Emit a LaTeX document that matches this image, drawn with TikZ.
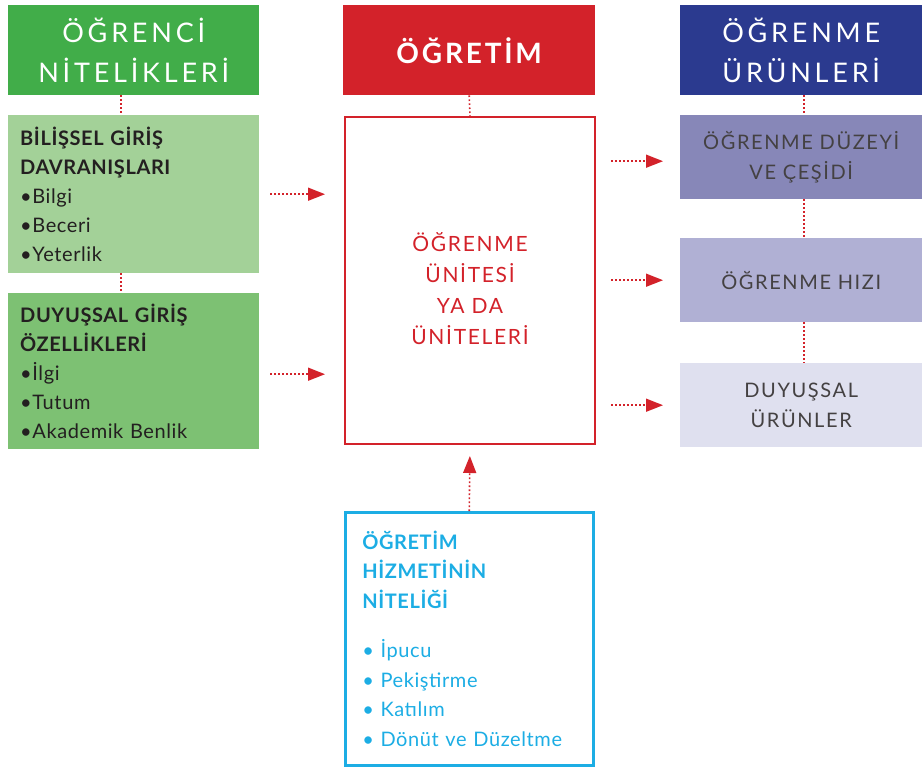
\documentclass[tikz,border=0pt]{standalone}
\usepackage{fontspec}
\setmainfont{Lato}[LetterSpace=3]
\newfontfamily\capsfont{Lato}[LetterSpace=8]
\newfontfamily\headfont{Lato}[LetterSpace=14]
\newfontfamily\boldhead{Lato}[LetterSpace=10]
\usetikzlibrary{arrows.meta}
\definecolor{hgreen}{HTML}{41AD49}
\definecolor{lgreen}{HTML}{A3D198}
\definecolor{mgreen}{HTML}{7DC173}
\definecolor{ored}{HTML}{D3222A}
\definecolor{onavy}{HTML}{2B3A8F}
\definecolor{pone}{HTML}{8787B8}
\definecolor{ptwo}{HTML}{B0B0D4}
\definecolor{pthree}{HTML}{DFE0EF}
\definecolor{ocyan}{HTML}{1CADE4}
\definecolor{dtext}{HTML}{231F20}
\begin{document}
\begin{tikzpicture}[x=1pt,y=-1pt,
    head/.style={anchor=north west,inner sep=0pt,minimum height=90pt,align=center,text=white,font=\headfont\fontsize{27}{40}\selectfont},
    lbox/.style={anchor=north west,inner xsep=12pt,inner ysep=0pt,text width=227pt,align=left,text=dtext,font=\fontsize{20}{29}\selectfont},
    rbox/.style={anchor=north west,inner sep=0pt,minimum width=242pt,minimum height=84pt,align=center,text=dtext!85,font=\capsfont\fontsize{20}{30}\selectfont},
    link/.style={ored,line width=1.6pt,dash pattern=on 1.6pt off 2.4pt},
    arr/.style={link,-{Triangle[length=17pt,width=13pt]}}]
    \useasboundingbox (0,0) rectangle (924,766);

    \node[head,fill=hgreen,minimum width=251pt] (H1) at (8,5) {ÖĞRENCİ\\NİTELİKLERİ};
    \node[head,fill=ored,minimum width=252pt,font=\boldhead\fontsize{28}{40}\selectfont\bfseries] (H2) at (343,5) {ÖĞRETİM};
    \node[head,fill=onavy,minimum width=242pt] (H3) at (680,5) {ÖĞRENME\\ÜRÜNLERİ};

    \node[lbox,fill=lgreen,minimum height=158pt] (L1) at (8,115) {\textbf{BİLİŞSEL GİRİŞ}\\\textbf{DAVRANIŞLARI}\\•Bilgi\\•Beceri\\•Yeterlik};
    \node[lbox,fill=mgreen,minimum height=156pt] (L2) at (8,293) {\textbf{DUYUŞSAL GİRİŞ}\\\textbf{ÖZELLİKLERİ}\\•İlgi\\•Tutum\\•Akademik Benlik};

    \node[draw=ored,line width=2pt,anchor=north west,minimum width=250pt,minimum height=327pt] (C1) at (344,116) {};
    \node[align=center,text=ored,font=\capsfont\fontsize{21}{31}\selectfont] (C1t) at ([yshift=-8pt]C1.center) {ÖĞRENME\\ÜNİTESİ\\YA DA\\ÜNİTELERİ};
    \node[draw=ocyan,line width=2.5pt,anchor=north west,inner xsep=17pt,inner ysep=0pt,text width=214pt,minimum height=253pt,align=left,text=ocyan,font=\fontsize{20}{29.5}\selectfont] (C2) at (344,511) {\textbf{ÖĞRETİM}\\\textbf{HİZMETİNİN}\\\textbf{NİTELİĞİ}\\[20pt]• İpucu\\• Pekiştirme\\• Katılım\\• Dönüt ve Düzeltme};

    \node[rbox,fill=pone] (R1) at (680,115) {ÖĞRENME DÜZEYİ\\VE ÇEŞİDİ};
    \node[rbox,fill=ptwo] (R2) at (680,238) {ÖĞRENME HIZI};
    \node[rbox,fill=pthree] (R3) at (680,363) {DUYUŞSAL\\ÜRÜNLER};

    \draw[link] ([xshift=-13pt]H1.south) -- ([xshift=-13pt]L1.north);
    \draw[link] ([xshift=-13pt]L1.south) -- ([xshift=-13pt]L2.north);
    \draw[link] (H2.south) -- (C1.north);
    \draw[link] ([xshift=3pt]H3.south) -- ([xshift=3pt]R1.north);
    \draw[link] ([xshift=3pt]R1.south) -- ([xshift=3pt]R2.north);
    \draw[link] ([xshift=3pt]R2.south) -- ([xshift=3pt]R3.north);

    \draw[arr,shorten <=11pt,shorten >=19pt] (L1.east) -- (L1.east -| C1.west);
    \draw[arr,shorten <=11pt,shorten >=19pt] ([yshift=-3pt]L2.east) -- ([yshift=-3pt]L2.east -| C1.west);
    \draw[arr,shorten <=15pt,shorten >=17pt] ([yshift=-4pt]R1.west -| C1.east) -- ([yshift=-4pt]R1.west);
    \draw[arr,shorten <=15pt,shorten >=17pt] (R2.west -| C1.east) -- (R2.west);
    \draw[arr,shorten <=15pt,shorten >=17pt] (R3.west -| C1.east) -- (R3.west);
    \draw[arr,shorten >=11pt] (C2.north) -- (C1.south);
\end{tikzpicture}
\end{document}
